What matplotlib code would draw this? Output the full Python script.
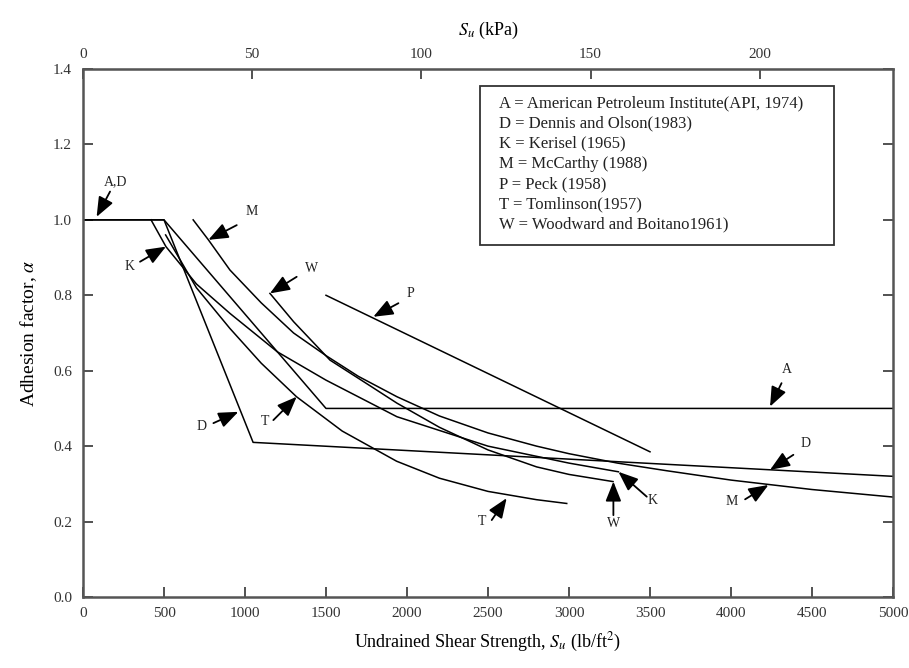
import numpy as np
import matplotlib.pyplot as plt

plt.rcParams['font.family'] = ['Liberation Serif', 'DejaVu Serif']
plt.rcParams['mathtext.fontset'] = 'stix'

# curves: Su (lb/ft2) and adhesion factor
su_A = [0, 500, 1500, 5000]
a_A = [1.0, 1.0, 0.5, 0.5]
su_D = [0, 500, 1050, 5000]
a_D = [1.0, 1.0, 0.41, 0.32]
su_P = [1500, 3500]
a_P = [0.80, 0.385]
su_K = [420, 512, 700, 907, 1200, 1500, 1938, 2500, 3000, 3305]
a_K = [1.0, 0.929, 0.83, 0.752, 0.65, 0.575, 0.478, 0.40, 0.355, 0.332]
su_M = [680, 774, 907, 1100, 1300, 1500, 1700, 1938, 2200, 2500, 2800, 3000, 3300, 3600, 4000, 4500, 5000]
a_M = [1.0, 0.947, 0.867, 0.78, 0.70, 0.64, 0.585, 0.531, 0.48, 0.435, 0.40, 0.38, 0.355, 0.335, 0.31, 0.285, 0.265]
su_T = [510, 700, 907, 1100, 1318, 1600, 1936, 2200, 2500, 2800, 2986]
a_T = [0.96, 0.82, 0.712, 0.62, 0.531, 0.44, 0.36, 0.315, 0.28, 0.258, 0.248]
su_W = [1154, 1300, 1525, 1772, 1938, 2200, 2500, 2800, 3000, 3272]
a_W = [0.805, 0.73, 0.628, 0.56, 0.514, 0.45, 0.39, 0.345, 0.325, 0.306]

legend_lines = ['A = American Petroleum Institute(API, 1974)',
                'D = Dennis and Olson(1983)',
                'K = Kerisel (1965)',
                'M = McCarthy (1988)',
                'P = Peck (1958)',
                'T = Tomlinson(1957)',
                'W = Woodward and Boitano1961)']

# label text, label pos, arrow tail, arrow tip
labels = [('A,D', (198, 1.10), (167, 1.075), (84, 1.008)),
          ('M', (1041, 1.022), (949, 0.986), (774, 0.947)),
          ('K', (290, 0.876), (352, 0.889), (512, 0.929)),
          ('W', (1412, 0.872), (1319, 0.849), (1154, 0.805)),
          ('P', (2019, 0.805), (1947, 0.779), (1792, 0.743)),
          ('D', (732, 0.452), (805, 0.461), (959, 0.491)),
          ('T', (1123, 0.465), (1175, 0.469), (1319, 0.531)),
          ('A', (4343, 0.602), (4312, 0.567), (4241, 0.505)),
          ('D', (4457, 0.406), (4385, 0.377), (4241, 0.337)),
          ('M', (4004, 0.253), (4087, 0.259), (4231, 0.297)),
          ('K', (3515, 0.257), (3480, 0.266), (3305, 0.332)),
          ('W', (3274, 0.195), (3274, 0.217), (3274, 0.306)),
          ('T', (2461, 0.200), (2523, 0.204), (2615, 0.262))]

fig = plt.figure(figsize=(9.09, 6.68), dpi=100)
ax = fig.add_axes([83/909, 71/668, 810/909, 528/668])

for su, a in [(su_A, a_A), (su_D, a_D), (su_P, a_P), (su_K, a_K),
              (su_M, a_M), (su_T, a_T), (su_W, a_W)]:
    ax.plot(su, a, color='k', lw=1.1)

for txt, lp, tail, tip in labels:
    ax.annotate('', xy=tip, xytext=tail,
                arrowprops=dict(arrowstyle='-|>,head_length=0.8,head_width=0.32',
                                color='k', lw=1.3, mutation_scale=15,
                                shrinkA=0, shrinkB=0))
    ax.text(lp[0], lp[1], txt, fontsize=10, ha='center', va='center', color='#222')

ax.set_xlim(0, 5000)
ax.set_ylim(0, 1.4)
ax.set_xticks(np.arange(0, 5001, 500))
ax.set_yticks(np.arange(0, 1.41, 0.2))
ax.set_yticklabels(['%.1f' % v for v in np.arange(0, 1.41, 0.2)])
ax.tick_params(direction='in', length=7, width=1.2, right=True, labelsize=11,
               colors='#333')
ax.tick_params(axis='x', pad=7)
ax.tick_params(axis='y', pad=8)
for s in ax.spines.values():
    s.set_linewidth(1.8)
    s.set_color('#555')

sec = ax.secondary_xaxis('top', functions=(lambda x: x / 20.885, lambda k: k * 20.885))
sec.set_xticks([0, 50, 100, 150, 200])
sec.tick_params(direction='in', length=7, width=1.2, labelsize=11, colors='#333', pad=6)
sec.set_xlabel('$S_u$ (kPa)', fontsize=13, labelpad=9)

ax.set_xlabel('Undrained Shear Strength, $S_u$ (lb/ft$^2$)', fontsize=13, labelpad=8)
ax.set_ylabel(r'Adhesion factor, $\alpha$', fontsize=14, labelpad=10)

# legend box
ax.add_patch(plt.Rectangle((2451, 0.933), 2185, 0.422, fill=False, lw=1.3,
                           ec='#333', zorder=3))
for i, line in enumerate(legend_lines):
    ax.text(2570, 1.31 - i * 0.0538, line, fontsize=12, ha='left', va='center',
            color='#222')

fig.savefig('out.png', dpi=100)
